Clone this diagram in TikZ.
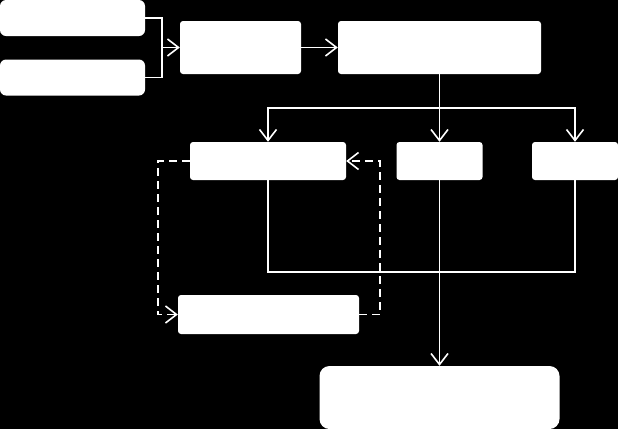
\documentclass[tikz,border=0pt]{standalone}
\usetikzlibrary{arrows.meta}

\tikzset{
    blk/.style={fill=white, draw=none, inner sep=0pt, rounded corners=3pt},
    wire/.style={draw=white, line width=1.5pt},
    arr/.style={wire, -{Straight Barb[length=11pt, width=17pt, line width=1.6pt]}},
    dsh/.style={arr, dash pattern=on 8pt off 5pt}
}

\begin{document}
\begin{tikzpicture}[x=1pt, y=-1pt]
        % Background
        \fill[black] (0,0) rectangle (618,429);
        \useasboundingbox (0,0) rectangle (618,429);

        % Boxes
        \node[blk, rounded corners=6pt, minimum width=145pt, minimum height=36pt] (inA) at (72.5,18) {};
        \node[blk, rounded corners=6pt, minimum width=145pt, minimum height=36pt] (inB) at (72.5,77.5) {};
        \node[blk, minimum width=121pt, minimum height=53pt] (prep) at (240.5,47.5) {};
        \node[blk, minimum width=203pt, minimum height=53pt] (core) at (439.5,47.5) {};
        \node[blk, minimum width=156pt, minimum height=38pt] (left) at (268,161) {};
        \node[blk, minimum width=86pt, minimum height=38pt] (mid) at (439.5,161) {};
        \node[blk, minimum width=86pt, minimum height=38pt] (right) at (575,161) {};
        \node[blk, minimum width=181pt, minimum height=39pt] (loop) at (268.5,314.5) {};
        \node[blk, rounded corners=10pt, minimum width=240pt, minimum height=63pt] (out) at (439.5,397.5) {};

        % Inputs
        \coordinate (mrg) at (162,47.5);
        \draw[wire] (inA.east) -| (mrg) |- (inB.east);
        \draw[arr] (mrg) -- (prep.west);
        \draw[arr] (prep.east) -- (core.west);

        % Split
        \coordinate (split) at (439.5,108);
        \draw[wire] (core.south) -- (split);
        \draw[arr] (split) -| (left.north);
        \draw[arr] (split) -| (right.north);
        \draw[arr] (split) -- (mid.north);
        \draw[arr] (mid.south) -- (out.north);

        % Join
        \coordinate (join) at (439.5,272);
        \draw[wire] (left.south) |- (join) -| (right.south);

        % Feedback loop
        \draw[dsh] (left.west) -- ++(-32,0) |- (loop.west);
        \draw[dsh] (loop.east) -- ++(21,0) |- (left.east);
\end{tikzpicture}
\end{document}
